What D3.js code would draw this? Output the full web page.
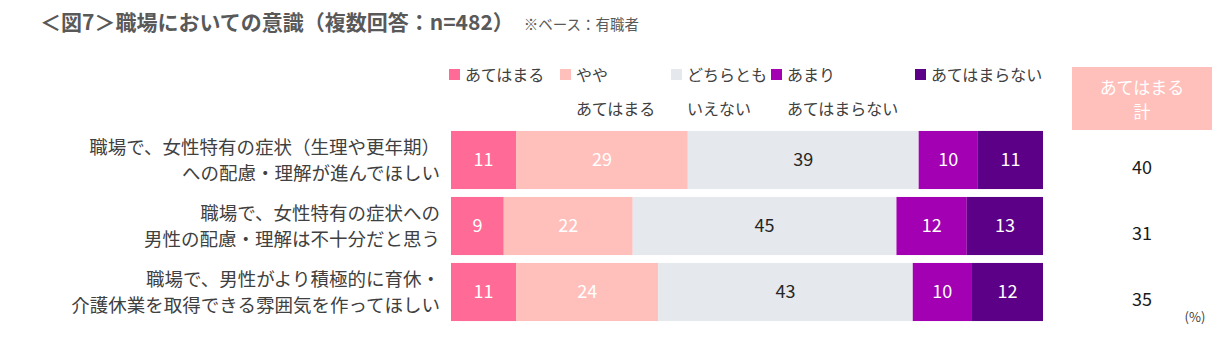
<!DOCTYPE html>
<html>
<head>
<meta charset="utf-8">
<script src="https://cdn.jsdelivr.net/npm/d3@7"></script>
<style>
	body { margin: 0; background: #fff; }
	svg text { font-family: "Noto Sans CJK JP", "Noto Sans", sans-serif; }
</style>
</head>
<body>
<svg id="chart" width="1232" height="354"></svg>
<script>
var categories = [
	["職場で、女性特有の症状（生理や更年期）", "への配慮・理解が進んでほしい"],
	["職場で、女性特有の症状への", "男性の配慮・理解は不十分だと思う"],
	["職場で、男性がより積極的に育休・", "介護休業を取得できる雰囲気を作ってほしい"]
];
var seriesNames = [["あてはまる"], ["やや", "あてはまる"], ["どちらとも", "いえない"], ["あまり", "あてはまらない"], ["あてはまらない"]];
var seriesColors = ["#ff6b96", "#ffbfbb", "#e5e8ed", "#a200b2", "#5c0088"];
var values = [
	[11, 29, 39, 10, 11],
	[9, 22, 45, 12, 13],
	[11, 24, 43, 10, 12]
];
var totals = [40, 31, 35];

var svg = d3.select("#chart");

/* Title */
var title = svg.append("text")
	.attr("x", 40).attr("y", 30)
	.attr("font-size", 21).attr("font-weight", "bold")
	.attr("fill", "#595959")
	.text("＜図7＞職場においての意識（複数回答：n=482）");
var titleEnd = 40 + title.node().getComputedTextLength();
svg.append("text")
	.attr("x", titleEnd + 10).attr("y", 30)
	.attr("font-size", 14.5)
	.attr("fill", "#595959")
	.text("※ベース：有職者");

/* Scales */
var x = d3.scaleLinear().range([451, 1043]);
var y = d3.scaleBand()
	.domain(d3.range(categories.length))
	.range([127, 325])
	.paddingInner(0.12)
	.paddingOuter(0.06);

/* Legend */
var legendX = [449, 560, 671, 771, 915];
var legend = svg.append("g").selectAll("g")
	.data(seriesNames)
	.enter().append("g")
	.attr("transform", function(d, i) { return "translate(" + legendX[i] + ",0)"; });
legend.append("rect")
	.attr("x", 0).attr("y", 69)
	.attr("width", 11).attr("height", 11)
	.attr("fill", function(d, i) { return seriesColors[i]; });
legend.selectAll("text")
	.data(function(d) { return d; })
	.enter().append("text")
	.attr("x", 16)
	.attr("y", function(d, j) { return 81 + j * 34; })
	.attr("font-size", 16)
	.attr("fill", "#404040")
	.text(function(d) { return d; });

/* Rows */
var rows = svg.append("g").selectAll("g")
	.data(values)
	.enter().append("g")
	.attr("transform", function(d, i) { return "translate(0," + y(i) + ")"; });

rows.each(function(row) {
	var sum = d3.sum(row);
	var xs = d3.scaleLinear().domain([0, sum]).range(x.range());
	var acc = 0;
	var segs = row.map(function(v, k) {
		var s = { v: v, k: k, x0: acc, x1: acc + v };
		acc += v;
		return s;
	});
	var g = d3.select(this);
	g.selectAll("rect")
		.data(segs)
		.enter().append("rect")
		.attr("x", function(d) { return xs(d.x0); })
		.attr("width", function(d) { return xs(d.x1) - xs(d.x0); })
		.attr("height", y.bandwidth())
		.attr("fill", function(d) { return seriesColors[d.k]; });
	g.selectAll("text.val")
		.data(segs)
		.enter().append("text")
		.attr("class", "val")
		.attr("x", function(d) { return (xs(d.x0) + xs(d.x1)) / 2; })
		.attr("y", y.bandwidth() / 2)
		.attr("dy", "0.36em")
		.attr("text-anchor", "middle")
		.attr("font-size", 18)
		.attr("fill", function(d) { return d.k == 2 ? "#262626" : "#fff"; })
		.text(function(d) { return d.v; });
});

/* Category labels */
rows.data(categories)
	.append("g")
	.selectAll("text")
	.data(function(d) { return d; })
	.enter().append("text")
	.attr("x", 440)
	.attr("y", function(d, j) { return y.bandwidth() / 2 - 13 + j * 26; })
	.attr("dy", "0.36em")
	.attr("text-anchor", "end")
	.attr("font-size", 18.5)
	.attr("fill", "#404040")
	.text(function(d) { return d; });

/* Totals */
svg.append("rect")
	.attr("x", 1072).attr("y", 67)
	.attr("width", 140).attr("height", 63)
	.attr("fill", "#ffbfbb");
svg.append("g").selectAll("text")
	.data(["あてはまる", "計"])
	.enter().append("text")
	.attr("x", 1142)
	.attr("y", function(d, j) { return 88 + j * 24; })
	.attr("dy", "0.36em")
	.attr("text-anchor", "middle")
	.attr("font-size", 17)
	.attr("fill", "#fff")
	.text(function(d) { return d; });

svg.append("g").selectAll("text")
	.data(totals)
	.enter().append("text")
	.attr("x", 1142)
	.attr("y", function(d, i) { return y(i) + y.bandwidth() / 2 + 8; })
	.attr("dy", "0.36em")
	.attr("text-anchor", "middle")
	.attr("font-size", 18)
	.attr("fill", "#1a1a1a")
	.text(function(d) { return d; });

svg.append("text")
	.attr("x", 1195).attr("y", 317)
	.attr("dy", "0.36em")
	.attr("text-anchor", "middle")
	.attr("font-size", 13)
	.attr("fill", "#404040")
	.text("(%)");
</script>
</body>
</html>
